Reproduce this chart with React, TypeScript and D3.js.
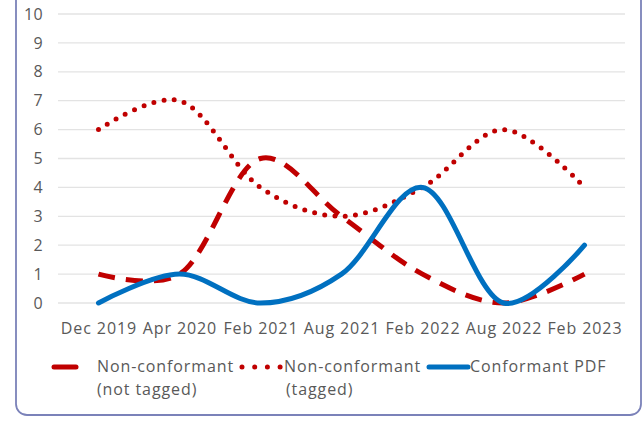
import React from "react";
import * as d3 from "d3";

const categories = ["Dec 2019", "Apr 2020", "Feb 2021", "Aug 2021", "Feb 2022", "Aug 2022", "Feb 2023"];
const notTagged = [1, 1, 5, 3, 1, 0, 1];
const tagged = [6, 7, 4, 3, 4, 6, 4];
const conformant = [0, 1, 0, 1, 4, 0, 2];
const yTicks = [0, 1, 2, 3, 4, 5, 6, 7, 8, 9, 10];

const W = 644;
const H = 422;
const FONT = "'Open Sans', sans-serif";
const FS = 16;
const LS = 0.9;
const TEXT = "#595959";
const RED = "#C00000";
const BLUE = "#0070C0";

export default function App() {
  const x = d3.scalePoint<string>().domain(categories).range([58, 625]).padding(0.5);
  const y = d3.scaleLinear().domain([0, 10]).range([303, 14]);
  const line = d3
    .line<number>()
    .x((_, i) => x(categories[i]) as number)
    .y((d) => y(d))
    .curve(d3.curveCatmullRom.alpha(0.25));

  const textProps = { fontFamily: FONT, fontSize: FS, fill: TEXT, letterSpacing: LS };

  return (
    <svg width={W} height={H} style={{ position: "absolute", left: 0, top: 0, background: "#fff" }}>
      <rect x={16} y={-30} width={625} height={445} rx={11} fill="#fff" stroke="#7b82b9" strokeWidth={1.8} />
      {yTicks.map((t) => (
        <g key={t}>
          <line x1={58} x2={625} y1={y(t)} y2={y(t)} stroke="#e3e3e3" strokeWidth={1.3} />
          <text x={43} y={y(t)} dy="0.35em" textAnchor="end" {...textProps} letterSpacing={0.3}>
            {t}
          </text>
        </g>
      ))}
      {categories.map((c) => (
        <text key={c} x={(x(c) as number) + LS / 2} y={334} textAnchor="middle" {...textProps}>
          {c}
        </text>
      ))}
      <path d={line(notTagged) ?? ""} fill="none" stroke={RED} strokeWidth={5} strokeDasharray="17 11" />
      <path d={line(tagged) ?? ""} fill="none" stroke={RED} strokeWidth={5} strokeDasharray="0 10.3" strokeLinecap="round" />
      <path d={line(conformant) ?? ""} fill="none" stroke={BLUE} strokeWidth={5} strokeLinecap="round" />

      {/* legend */}
      <line x1={54} x2={76} y1={367} y2={367} stroke={RED} strokeWidth={5} strokeLinecap="round" />
      <text {...textProps}>
        <tspan x={97} y={372}>Non-conformant</tspan>
        <tspan x={97} y={395}>(not tagged)</tspan>
      </text>
      <line x1={242} x2={281} y1={367} y2={367} stroke={RED} strokeWidth={5} strokeDasharray="0 12.7" strokeLinecap="round" />
      <text {...textProps}>
        <tspan x={284} y={372}>Non-conformant</tspan>
        <tspan x={286} y={395}>(tagged)</tspan>
      </text>
      <line x1={429} x2={468} y1={367} y2={367} stroke={BLUE} strokeWidth={5} strokeLinecap="round" />
      <text x={470} y={372} {...textProps}>
        Conformant PDF
      </text>
    </svg>
  );
}
